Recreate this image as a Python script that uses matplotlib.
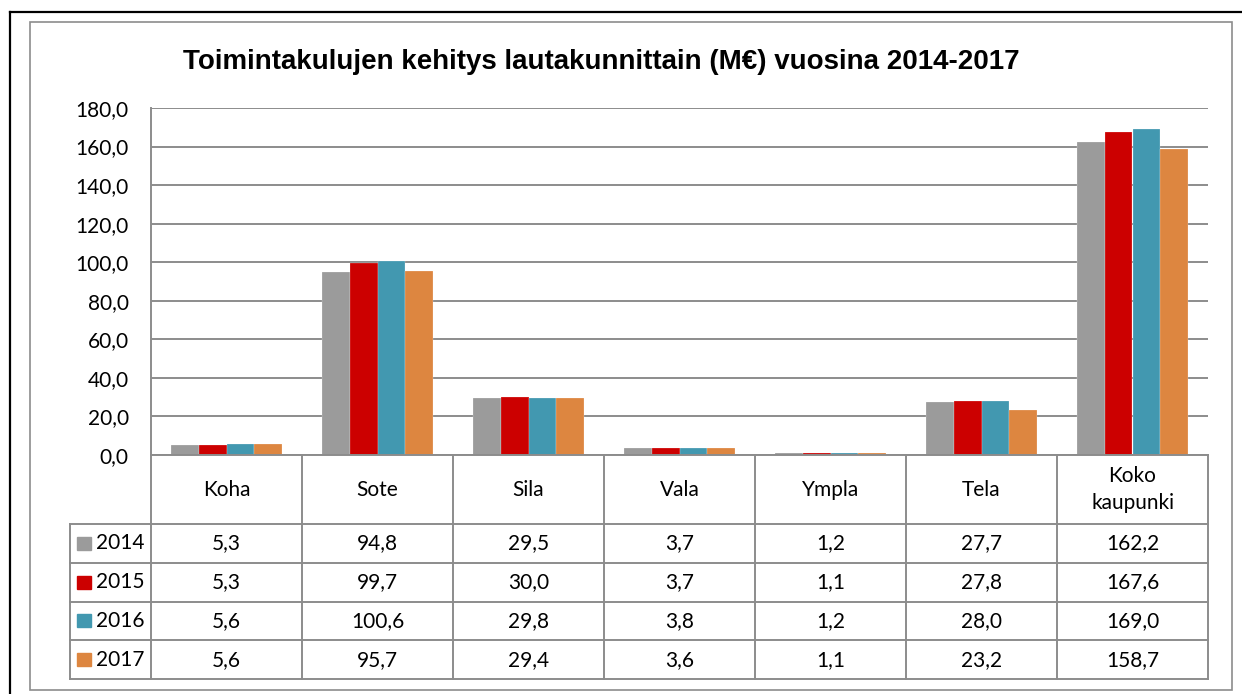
import matplotlib.pyplot as plt
from matplotlib.lines import Line2D
from matplotlib.patches import Rectangle

categories = ["Koha", "Sote", "Sila", "Vala", "Ympla", "Tela", "Koko\nkaupunki"]
years = ["2014", "2015", "2016", "2017"]
v2014 = [5.3, 94.8, 29.5, 3.7, 1.2, 27.7, 162.2]
v2015 = [5.3, 99.7, 30.0, 3.7, 1.1, 27.8, 167.6]
v2016 = [5.6, 100.6, 29.8, 3.8, 1.2, 28.0, 169.0]
v2017 = [5.6, 95.7, 29.4, 3.6, 1.1, 23.2, 158.7]
series = [v2014, v2015, v2016, v2017]
colors = ["#9b9b9b", "#cc0000", "#4298b0", "#dd8640"]
yticks = [0, 20, 40, 60, 80, 100, 120, 140, 160, 180]

W, H = 1242, 694
fig = plt.figure(figsize=(W / 100, H / 100), dpi=100)
grid_c = "#8c8c8c"
num_font = "Lato"
fs = 15


def fx(px):
    return px / W


def fy(py):
    return 1 - py / H


# outer frames
fig.add_artist(Line2D([fx(10), fx(10)], [fy(12), fy(700)], color="black", lw=1.6))
fig.add_artist(Line2D([fx(10), fx(1245)], [fy(12), fy(12)], color="black", lw=1.6))
fig.add_artist(Rectangle((fx(30), fy(690)), fx(1232) - fx(30), fy(22) - fy(690),
                         fill=False, ec="#8c8c8c", lw=1.2, transform=fig.transFigure))

fig.text(fx(601), fy(62), "Toimintakulujen kehitys lautakunnittain (M€) vuosina 2014-2017",
         ha="center", va="center", fontsize=20, fontweight="bold", family="Liberation Sans")

# bar chart axes
L, R, T, B = 151, 1208, 108, 455
ax = fig.add_axes([fx(L), fy(B), fx(R) - fx(L), fy(T) - fy(B)])
n = len(categories)
bw = 0.735 / 4
for k, vals in enumerate(series):
    xs = [i - 0.735 / 2 + bw * (k + 0.5) for i in range(n)]
    ax.bar(xs, vals, width=bw, color=colors[k], edgecolor="white", linewidth=0.15, zorder=3)
ax.set_xlim(-0.5, n - 0.5)
ax.set_ylim(0, 180)
ax.set_yticks(yticks)
ax.set_yticklabels([f"{t:.1f}".replace(".", ",") for t in yticks], family=num_font, fontsize=fs)
ax.tick_params(axis="y", length=0, pad=16)
ax.set_xticks([])
ax.grid(axis="y", color=grid_c, lw=1.4, zorder=0)
for s in ["top", "right", "bottom"]:
    ax.spines[s].set_visible(False)
ax.spines["left"].set_color(grid_c)
ax.spines["left"].set_linewidth(1.4)

# data table below
TL, TB = 70, 679
tax = fig.add_axes([fx(TL), fy(TB), fx(R) - fx(TL), fy(B) - fy(TB)])
colw = (R - L) / n
tax.set_xlim(-0.5 - (L - TL) / colw, n - 0.5)
hdr = 69
rowh = (TB - B - hdr) / 4
tax.set_ylim(TB - B, 0)
tax.axis("off")
lk = dict(color=grid_c, lw=1.4, clip_on=False)
tax.plot([-0.5, n - 0.5], [0, 0], **lk)
for i in range(n + 1):
    tax.plot([i - 0.5, i - 0.5], [0, TB - B], **lk)
x0 = -0.5 - (L - TL) / colw
for r in range(5):
    y = hdr + r * rowh
    tax.plot([x0, n - 0.5], [y, y], **lk)
tax.plot([x0, x0], [hdr, TB - B], **lk)
for i, c in enumerate(categories):
    tax.text(i, hdr / 2, c, ha="center", va="center", fontsize=fs, family=num_font,
             linespacing=1.4)
for r, (yr, vals) in enumerate(zip(years, series)):
    yc = hdr + (r + 0.5) * rowh
    tax.add_patch(Rectangle((x0 + 0.045, yc - 6.5), 0.095, 13, color=colors[r], clip_on=False))
    tax.text(x0 + 0.33, yc, yr, ha="center", va="center", fontsize=fs, family=num_font)
    for i, v in enumerate(vals):
        tax.text(i, yc, f"{v:.1f}".replace(".", ","), ha="center", va="center",
                 fontsize=fs, family=num_font)

fig.savefig("out.png", dpi=100)
